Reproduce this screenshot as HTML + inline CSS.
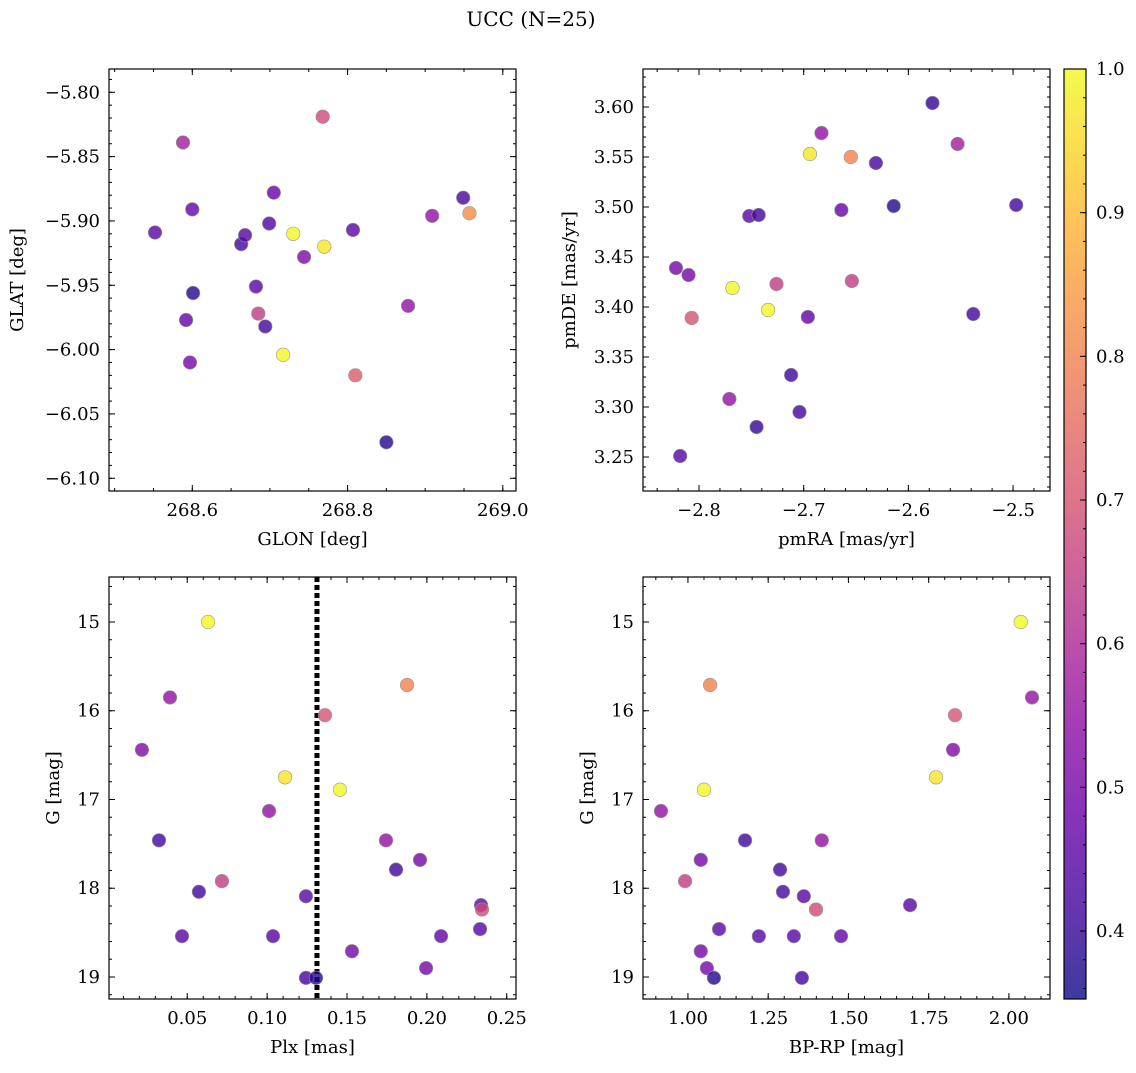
<!DOCTYPE html>
<html><head><meta charset="utf-8"><style>
body{margin:0;background:#fff}
svg text{font-family:"DejaVu Serif","Liberation Serif",serif;fill:#000}
</style></head><body>
<svg id="fig" width="1136" height="1068" xmlns="http://www.w3.org/2000/svg">
<defs><linearGradient id="cbg" x1="0" y1="1" x2="0" y2="0"></linearGradient></defs>
<text x="531" y="26" font-size="20" text-anchor="middle">UCC (N=25)</text>
</svg>
<script>
const glon=[268.768,268.588,268.552,268.600,268.705,268.699,268.663,268.668,268.730,268.770,268.744,268.807,268.909,268.949,268.957,268.601,268.682,268.592,268.685,268.694,268.597,268.717,268.810,268.878,268.850];
const glat=[-5.819,-5.839,-5.909,-5.891,-5.878,-5.902,-5.918,-5.911,-5.910,-5.920,-5.928,-5.907,-5.896,-5.882,-5.894,-5.956,-5.951,-5.977,-5.972,-5.982,-6.010,-6.004,-6.020,-5.966,-6.072];
const c1=[0.68,0.58,0.45,0.48,0.48,0.44,0.42,0.45,1.0,0.97,0.52,0.45,0.55,0.43,0.82,0.38,0.45,0.47,0.65,0.42,0.5,1.0,0.72,0.55,0.38];
const pmra=[-2.577,-2.683,-2.694,-2.655,-2.631,-2.553,-2.614,-2.497,-2.664,-2.752,-2.743,-2.822,-2.810,-2.768,-2.807,-2.726,-2.654,-2.734,-2.696,-2.538,-2.712,-2.771,-2.704,-2.745,-2.818];
const pmde=[3.604,3.574,3.553,3.550,3.544,3.563,3.501,3.502,3.497,3.491,3.492,3.439,3.432,3.419,3.389,3.423,3.426,3.397,3.390,3.393,3.332,3.308,3.295,3.280,3.251];
const c2=[0.40,0.55,0.97,0.80,0.42,0.58,0.38,0.42,0.47,0.45,0.42,0.5,0.5,1.0,0.70,0.65,0.65,1.0,0.47,0.42,0.42,0.55,0.42,0.40,0.45];
const plx=[0.063,0.0392,0.0216,0.0323,0.1876,0.1362,0.1112,0.1456,0.1012,0.0717,0.1744,0.1957,0.1807,0.0573,0.1243,0.2339,0.2345,0.0467,0.1037,0.2089,0.2333,0.1531,0.1995,0.1243,0.1306];
const gmag=[15.0,15.85,16.44,17.46,15.71,16.05,16.75,16.89,17.13,17.92,17.46,17.68,17.79,18.04,18.09,18.19,18.24,18.54,18.54,18.54,18.46,18.71,18.90,19.01,19.01];
const c3=[1.0,0.55,0.52,0.42,0.80,0.70,0.97,1.0,0.55,0.65,0.55,0.5,0.42,0.42,0.45,0.45,0.68,0.45,0.45,0.47,0.45,0.5,0.5,0.42,0.38];
const bprp=[2.037,2.072,1.069,1.832,1.826,1.773,1.050,0.916,1.178,1.417,1.040,0.991,1.287,1.296,1.361,1.399,1.692,1.097,1.221,1.330,1.477,1.040,1.059,1.081,1.355];
const gmag4=[15.0,15.85,15.71,16.05,16.44,16.75,16.89,17.13,17.46,17.46,17.68,17.92,17.79,18.04,18.09,18.24,18.19,18.46,18.54,18.54,18.54,18.71,18.90,19.01,19.01];
const c4=[1.0,0.55,0.80,0.70,0.52,0.97,1.0,0.55,0.42,0.55,0.5,0.65,0.42,0.42,0.45,0.68,0.45,0.45,0.45,0.45,0.47,0.5,0.5,0.38,0.42];
const plxLine=0.1312;
const cbTicks=[0.4,0.5,0.6,0.7,0.8,0.9,1.0];

const NS="http://www.w3.org/2000/svg";
const svg=document.getElementById('fig');
function mk(t,a,p){const e=document.createElementNS(NS,t);for(const k in a)e.setAttribute(k,a[k]);(p||svg).appendChild(e);return e;}
const stops=[[0,13,8,135],[0.1,65,4,157],[0.2,106,0,168],[0.3,143,13,164],[0.4,177,42,144],[0.5,204,71,120],[0.6,225,100,98],[0.7,242,132,75],[0.8,252,166,54],[0.9,252,206,37],[1,240,249,33]];
function plasma(t){t=Math.max(0,Math.min(1,t));for(let i=1;i<stops.length;i++){if(t<=stops[i][0]){const a=stops[i-1],b=stops[i],f=(t-a[0])/(b[0]-a[0]);return `rgb(${Math.round(a[1]+f*(b[1]-a[1]))},${Math.round(a[2]+f*(b[2]-a[2]))},${Math.round(a[3]+f*(b[3]-a[3]))})`;}}return 'rgb(240,249,33)';}
const vmin=0.3527,vmax=1.0,ALPHA=0.8,FS=18;
function cnorm(v){return (v-vmin)/(vmax-vmin);}
function fmt(v,d){const s=Math.abs(v).toFixed(d);return (v<0?'\u2212':'')+s;}

function panel(o){
  const g=mk('g',{});  
  const X=v=>o.x0+(v-o.xmin)/(o.xmax-o.xmin)*(o.x1-o.x0);
  const Y=o.yinv?(v=>o.y0+(v-o.ymin)/(o.ymax-o.ymin)*(o.y1-o.y0)):(v=>o.y1-(v-o.ymin)/(o.ymax-o.ymin)*(o.y1-o.y0));
  const tg=mk('g',{stroke:'#000','stroke-width':1},g);
  function ticks(step,len,axis){
    const lo=axis=='x'?o.xmin:o.ymin,hi=axis=='x'?o.xmax:o.ymax;
    for(let k=Math.ceil(lo/step-1e-6);k*step<=hi+1e-9;k++){const v=k*step;
      if(axis=='x'){const p=X(v);mk('line',{x1:p,x2:p,y1:o.y1,y2:o.y1-len},tg);mk('line',{x1:p,x2:p,y1:o.y0,y2:o.y0+len},tg);}
      else{const p=Y(v);mk('line',{y1:p,y2:p,x1:o.x0,x2:o.x0+len},tg);mk('line',{y1:p,y2:p,x1:o.x1,x2:o.x1-len},tg);}
    }}
  ticks(o.xminor,3,'x');ticks(o.yminor,3,'y');ticks(o.xmaj,6,'x');ticks(o.ymaj,6,'y');
  for(let k=Math.ceil(o.xmin/o.xmaj-1e-6);k*o.xmaj<=o.xmax+1e-9;k++){const v=k*o.xmaj;
    const t=mk('text',{x:X(v),y:o.y1+25,'font-size':FS,'text-anchor':'middle'},g);t.textContent=fmt(v,o.xd);
    }
  for(let k=Math.ceil(o.ymin/o.ymaj-1e-6);k*o.ymaj<=o.ymax+1e-9;k++){const v=k*o.ymaj;
    const t=mk('text',{x:o.x0-9,y:Y(v)+6,'font-size':FS,'text-anchor':'end'},g);t.textContent=fmt(v,o.yd);
    }
  const xl=mk('text',{x:(o.x0+o.x1)/2,y:o.y1+54,'font-size':FS,'text-anchor':'middle'},g);xl.textContent=o.xlabel;
  
  const yx=o.ylx, yy=(o.y0+o.y1)/2;
  const yl=mk('text',{x:yx,y:yy,'font-size':FS,'text-anchor':'middle',transform:`rotate(-90 ${yx} ${yy})`},g);yl.textContent=o.ylabel;
  
  if(o.vline!==undefined){const l=mk('line',{x1:X(o.vline),x2:X(o.vline),y1:o.y0,y2:o.y1,stroke:'#000','stroke-width':5,'stroke-dasharray':'5 3'},g);
    }
  for(let i=0;i<o.xs.length;i++){
    const c=mk('circle',{cx:X(o.xs[i]),cy:Y(o.ys[i]),r:6.8,fill:plasma(cnorm(o.cs[i])),stroke:'#999','stroke-width':0.6,'fill-opacity':ALPHA},g);
    
  }
  const fr=mk('rect',{x:o.x0,y:o.y0,width:o.x1-o.x0,height:o.y1-o.y0,fill:'none',stroke:'#000','stroke-width':1.2},g);
  
}
panel({name:'glon-glat-panel',x0:109,x1:516,y0:69,y1:491,xmin:268.4927,xmax:269.017,ymin:-6.1099,ymax:-5.7819,xmaj:0.2,xminor:0.05,ymaj:0.05,yminor:0.01,xd:1,yd:2,xlabel:'GLON [deg]',ylabel:'GLAT [deg]',ylx:23,xs:glon,ys:glat,cs:c1});
panel({name:'pm-panel',x0:643,x1:1050,y0:69,y1:491,xmin:-2.8535,xmax:-2.4647,ymin:3.216,ymax:3.638,xmaj:0.1,xminor:0.02,ymaj:0.05,yminor:0.01,xd:1,yd:2,xlabel:'pmRA [mas/yr]',ylabel:'pmDE [mas/yr]',ylx:575,xs:pmra,ys:pmde,cs:c2});
panel({name:'plx-g-panel',x0:109,x1:516,y0:577,y1:999,xmin:0.001,xmax:0.2558,ymin:14.493,ymax:19.248,yinv:true,xmaj:0.05,xminor:0.01,ymaj:1,yminor:0.2,xd:2,yd:0,xlabel:'Plx [mas]',ylabel:'G [mag]',ylx:59,xs:plx,ys:gmag,cs:c3,vline:plxLine});
panel({name:'cmd-panel',x0:643,x1:1050,y0:577,y1:999,xmin:0.860,xmax:2.128,ymin:14.493,ymax:19.248,yinv:true,xmaj:0.25,xminor:0.05,ymaj:1,yminor:0.2,xd:2,yd:0,xlabel:'BP-RP [mag]',ylabel:'G [mag]',ylx:593,xs:bprp,ys:gmag4,cs:c4});

const grad=document.getElementById('cbg');
for(let i=0;i<=20;i++){mk('stop',{offset:i/20,'stop-color':plasma(i/20)},grad);}
const cb=mk('g',{});
const cx0=1064,cx1=1086,cy0=69,cy1=999;
mk('rect',{x:cx0,y:cy0,width:cx1-cx0,height:cy1-cy0,fill:'url(#cbg)','fill-opacity':ALPHA},cb);
mk('rect',{x:cx0,y:cy0,width:cx1-cx0,height:cy1-cy0,fill:'none',stroke:'#000','stroke-width':1.2},cb);
const CY=v=>cy1-(v-vmin)/(vmax-vmin)*(cy1-cy0);
for(let k=18;k<=50;k++){const v=k*0.02;if(v<vmin||v>vmax+1e-9)continue;const p=CY(v);mk('line',{x1:cx1,x2:cx1-3,y1:p,y2:p,stroke:'#000'},cb);}
for(const v of cbTicks){const p=CY(v);mk('line',{x1:cx1,x2:cx1-6,y1:p,y2:p,stroke:'#000'},cb);
  const t=mk('text',{x:cx1+10,y:p+6,'font-size':FS},cb);t.textContent=v.toFixed(1);
  }
</script>
</body></html>
